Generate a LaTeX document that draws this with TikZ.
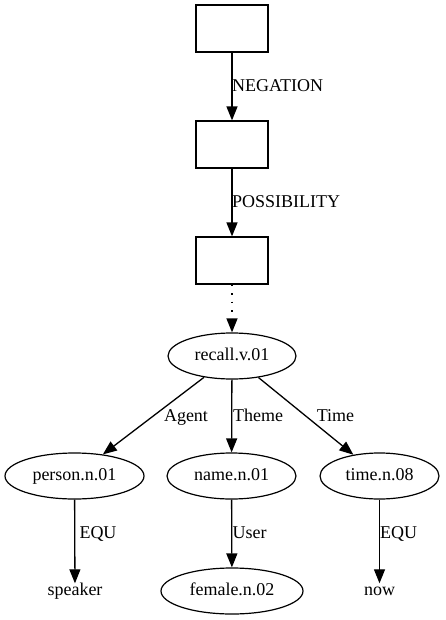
\documentclass[tikz,border=0pt]{standalone}
\usepackage{fontspec}
\setmainfont{Liberation Serif}
\usetikzlibrary{arrows.meta,shapes.geometric}
\begin{document}
\begin{tikzpicture}[x=1pt,y=-1pt,
  every node/.style={font=\fontsize{18}{20}\selectfont, inner sep=0pt},
  boxnode/.style={draw, line width=1.2pt, minimum width=72pt, minimum height=47pt},
  ell/.style={draw, ellipse, line width=1.2pt, minimum height=46pt, text height=12pt, text depth=4pt},
  plain/.style={text height=12pt, text depth=4pt},
  lbl/.style={text height=12pt, text depth=4pt},
  edge/.style={line width=1.3pt, -{Triangle[length=14pt,width=11pt]}}]
\useasboundingbox (0,0) rectangle (445,620);
\node[boxnode] (b1) at (232,28.5) {};
\node[boxnode] (b2) at (232,144.5) {};
\node[boxnode] (b3) at (232,260.5) {};
\node[ell, minimum width=128pt] (recall) at (232,356) {recall.v.01};
\node[ell, minimum width=139pt] (person) at (74.5,476) {person.n.01};
\node[ell, minimum width=129pt] (name) at (231.5,476) {name.n.01};
\node[ell, minimum width=119pt] (time) at (379.5,476) {time.n.08};
\node[ell, minimum width=142pt] (female) at (232,591) {female.n.02};
\node[plain] (speaker) at (75,591.5) {speaker};
\node[plain] (now) at (379.5,591.5) {now};
\draw[edge] (b1) -- (b2);
\draw[edge] (b2) -- (b3);
\draw[edge, dash pattern=on 1.5pt off 7pt] (b3) -- (recall);
\draw[edge] (recall) -- (person);
\draw[edge] (recall) -- (name);
\draw[edge] (recall) -- (time);
\draw[edge] (person) -- (speaker);
\draw[edge] (name) -- (female);
\draw[edge] (time) -- (now);
\node[lbl, anchor=west] (lneg) at (232,87.5) {NEGATION};
\node[lbl, anchor=west] (lpos) at (232,203.5) {POSSIBILITY};
\node[lbl] (lag) at (186,417.5) {Agent};
\node[lbl] (lth) at (258,417.5) {Theme};
\node[lbl] (lti) at (335.5,417.5) {Time};
\node[lbl] (leq1) at (98,534.5) {EQU};
\node[lbl] (lus) at (249.5,534.5) {User};
\node[lbl] (leq2) at (398.5,534.5) {EQU};
\end{tikzpicture}
\end{document}
